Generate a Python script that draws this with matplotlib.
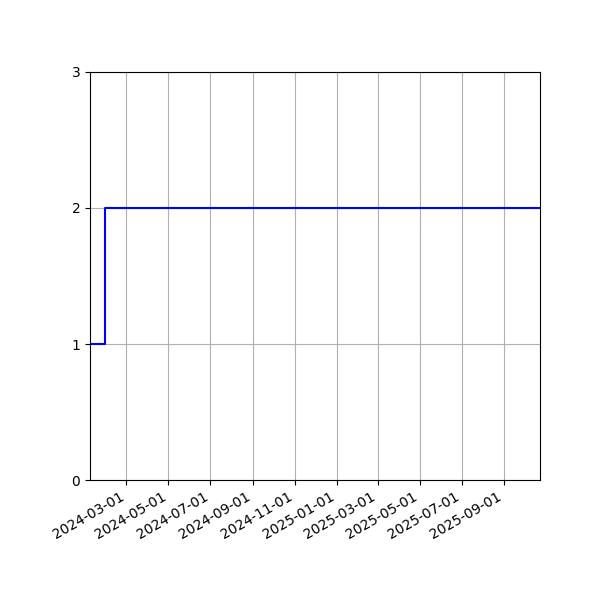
import numpy as np
import matplotlib
matplotlib.use("Agg")
import matplotlib.pyplot as plt
import matplotlib.dates as mdates

dates = np.array(["2024-01-08", "2024-01-30", "2025-10-23"], dtype="datetime64[D]")
values = [1, 2, 2]
tick_dates = np.array(["2024-03-01", "2024-05-01", "2024-07-01", "2024-09-01",
                       "2024-11-01", "2025-01-01", "2025-03-01", "2025-05-01",
                       "2025-07-01", "2025-09-01"], dtype="datetime64[D]")

fig = plt.figure(figsize=(6, 6), dpi=100)
ax = fig.add_axes([0.15, 0.2, 0.75, 0.68])
ax.step(dates, values, where="post", color="blue")
ax.set_xlim(dates[0], dates[-1])
ax.set_ylim(0, 3)
ax.set_yticks([0, 1, 2, 3])
ax.set_xticks(tick_dates)
ax.xaxis.set_major_formatter(mdates.DateFormatter("%Y-%m-%d"))
ax.grid(True)
for lbl in ax.get_xticklabels():
    lbl.set_rotation(30)
    lbl.set_ha("right")
fig.savefig("out.png", dpi=100)
